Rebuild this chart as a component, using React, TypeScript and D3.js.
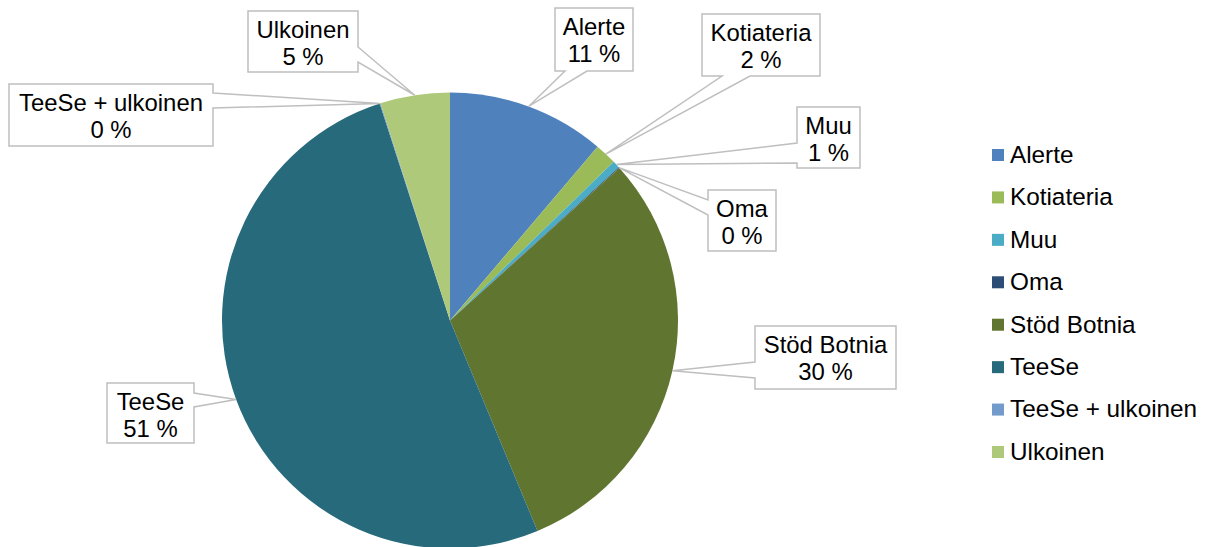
import React from "react";
import * as d3 from "d3";

const categories = ["Alerte", "Kotiateria", "Muu", "Oma", "Stöd Botnia", "TeeSe", "TeeSe + ulkoinen", "Ulkoinen"];
const values = [11.2, 1.55, 0.52, 0.06, 30.4, 51.28, 0.06, 4.93];
const colors = ["#4F81BD", "#9BBB59", "#4BACC6", "#2C4D75", "#5F7530", "#276A7C", "#729ACA", "#AFC97A"];

// label callout layout: box x, y, w, h, side of the pointer, pointer base start/end along that side
const labelLayout = [
  { x: 555, y: 8, w: 78, h: 63, side: "bottom", b1: 565, b2: 587 },
  { x: 702, y: 14, w: 118, h: 62, side: "bottom", b1: 722, b2: 750 },
  { x: 797, y: 107, w: 63, h: 61, side: "left", b1: 143, b2: 163 },
  { x: 708, y: 190, w: 68, h: 61, side: "left", b1: 200, b2: 215 },
  { x: 755, y: 326, w: 141, h: 63, side: "left", b1: 362, b2: 378 },
  { x: 107, y: 383, w: 87, h: 60, side: "right", b1: 393, b2: 407 },
  { x: 9, y: 84, w: 204, h: 62, side: "right", b1: 93, b2: 108 },
  { x: 248, y: 11, w: 110, h: 61, side: "right", b1: 47, b2: 62 },
];

const W = 1205;
const H = 547;
const cx = 450;
const cy = 320.5;
const R = 228;
const FONT = "Arial, 'Liberation Sans', sans-serif";
const FS = 23.9;
const LFS = 24.3;

function calloutPath(b: any, tx: number, ty: number) {
  const { x, y, w, h, side, b1, b2 } = b;
  const p: string[] = [];
  p.push(`M${x},${y}`);
  if (side === "top") p.push(`L${b1},${y}`, `L${tx},${ty}`, `L${b2},${y}`);
  p.push(`L${x + w},${y}`);
  if (side === "right") p.push(`L${x + w},${b1}`, `L${tx},${ty}`, `L${x + w},${b2}`);
  p.push(`L${x + w},${y + h}`);
  if (side === "bottom") p.push(`L${b2},${y + h}`, `L${tx},${ty}`, `L${b1},${y + h}`);
  p.push(`L${x},${y + h}`);
  if (side === "left") p.push(`L${x},${b2}`, `L${tx},${ty}`, `L${x},${b1}`);
  p.push("Z");
  return p.join(" ");
}

export default function App() {
  const total = d3.sum(values);
  const pie = d3.pie<number>().sort(null).value((d) => d);
  const arcs = pie(values);
  const arc = d3.arc<d3.PieArcDatum<number>>().innerRadius(0).outerRadius(R);
  const color = d3.scaleOrdinal<string, string>().domain(categories).range(colors);
  const legendY = d3.scalePoint<string>().domain(categories).range([155, 452]);

  return (
    <svg width={W} height={H} style={{ position: "absolute", left: 0, top: 0, background: "#fff" }}>
      <g transform={`translate(${cx},${cy})`}>
        {arcs.map((a, i) => (
          <path key={i} d={arc(a) || ""} fill={color(categories[i])} />
        ))}
      </g>
      {arcs.map((a, i) => {
        const m = (a.startAngle + a.endAngle) / 2;
        const tx = cx + R * Math.sin(m);
        const ty = cy - R * Math.cos(m);
        const b = labelLayout[i];
        const pct = Math.round((values[i] / total) * 100);
        const mx = b.x + b.w / 2;
        return (
          <g key={i}>
            <path d={calloutPath(b, tx, ty)} fill="#fff" stroke="#BFBFBF" strokeWidth={1.5} strokeLinejoin="miter" />
            <text x={mx} y={b.y + 26.5} textAnchor="middle" fontFamily={FONT} fontSize={FS} fill="#000">
              {categories[i]}
            </text>
            <text x={mx} y={b.y + 53.5} textAnchor="middle" fontFamily={FONT} fontSize={FS} fill="#000">
              {`${pct} %`}
            </text>
          </g>
        );
      })}
      {categories.map((c, i) => {
        const y = legendY(c) as number;
        return (
          <g key={c}>
            <rect x={992} y={y - 6} width={12} height={12} fill={color(c)} />
            <text x={1010} y={y + 7.8} fontFamily={FONT} fontSize={LFS} fill="#000">
              {c}
            </text>
          </g>
        );
      })}
    </svg>
  );
}
